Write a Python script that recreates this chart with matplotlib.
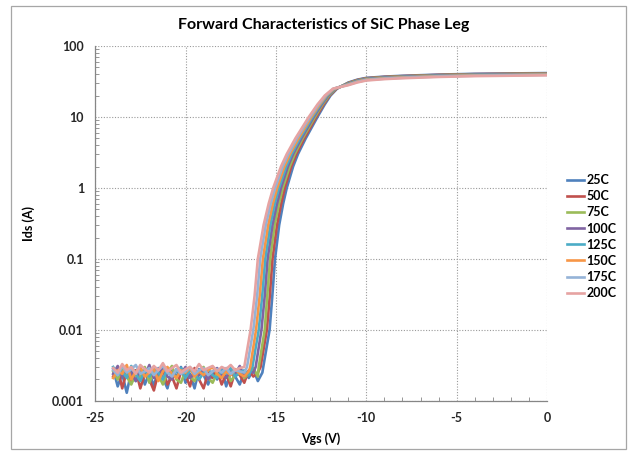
import numpy as np
import matplotlib
matplotlib.use("Agg")
import matplotlib.pyplot as plt
from matplotlib.patches import Rectangle
from matplotlib.ticker import LogLocator, MultipleLocator, FixedLocator

plt.rcParams['font.family'] = ['Lato', 'DejaVu Sans']
plt.rcParams['font.weight'] = 'bold'
plt.rcParams['axes.unicode_minus'] = False

labels = ['25C', '50C', '75C', '100C', '125C', '150C', '175C', '200C']
colors = ['#4F81BD', '#C0504D', '#9BBB59', '#8064A2', '#4BACC6', '#F79646', '#95B3D7', '#E6A3A2']
nan = np.nan

# noise floor (off state), common Vgs grid
floor_vgs = [-24.0, -23.75, -23.5, -23.25, -23.0, -22.75, -22.5, -22.25, -22.0, -21.75,
             -21.5, -21.25, -21.0, -20.75, -20.5, -20.25, -20.0, -19.75, -19.5, -19.25,
             -19.0, -18.75, -18.5, -18.25, -18.0, -17.75, -17.5, -17.25, -17.0, -16.75,
             -16.5, -16.25, -16.0, -15.75]
floor_25 = [0.0028, 0.0016, 0.0024, 0.0013, 0.0026, 0.0019, 0.0030, 0.0017, 0.0025, 0.0016,
            0.0029, 0.0021, 0.0015, 0.0027, 0.0022, 0.0030, 0.0018, 0.0024, 0.0015, 0.0028,
            0.0023, 0.0017, 0.0026, 0.0020, 0.0029, 0.0016, 0.0025, 0.0022, 0.0017, 0.0026,
            0.0021, 0.0028, 0.0019, 0.0025]
floor_50 = [0.0022, 0.0029, 0.0015, 0.0026, 0.0018, 0.0027, 0.0015, 0.0024, 0.0020, 0.0014,
            0.0025, 0.0028, 0.0017, 0.0022, 0.0015, 0.0026, 0.0023, 0.0016, 0.0029, 0.0020,
            0.0015, 0.0025, 0.0021, 0.0027, 0.0017, 0.0024, 0.0016, 0.0026, 0.0023, 0.0018,
            0.0027, 0.0022, 0.0025, nan]
floor_75 = [0.0026, 0.0020, 0.0029, 0.0022, 0.0017, 0.0024, 0.0021, 0.0030, 0.0018, 0.0026,
            0.0023, 0.0017, 0.0025, 0.0031, 0.0020, 0.0018, 0.0027, 0.0022, 0.0019, 0.0026,
            0.0030, 0.0021, 0.0018, 0.0025, 0.0022, 0.0028, 0.0019, 0.0023, 0.0027, 0.0021,
            0.0024, 0.0029, 0.0022, nan]
floor_100 = [0.0024, 0.0031, 0.0022, 0.0028, 0.0025, 0.0019, 0.0027, 0.0023, 0.0032, 0.0021,
             0.0024, 0.0029, 0.0022, 0.0020, 0.0028, 0.0024, 0.0030, 0.0021, 0.0025, 0.0023,
             0.0028, 0.0020, 0.0026, 0.0029, 0.0023, 0.0021, 0.0027, 0.0024, 0.0031, 0.0022,
             0.0026, 0.0025, nan, nan]
floor_125 = [0.0030, 0.0023, 0.0026, 0.0021, 0.0031, 0.0024, 0.0019, 0.0027, 0.0022, 0.0030,
             0.0025, 0.0020, 0.0028, 0.0023, 0.0026, 0.0029, 0.0021, 0.0027, 0.0024, 0.0020,
             0.0025, 0.0028, 0.0023, 0.0021, 0.0027, 0.0024, 0.0029, 0.0022, 0.0025, 0.0027,
             0.0023, nan, nan, nan]
floor_150 = [0.0021, 0.0027, 0.0024, 0.0032, 0.0020, 0.0026, 0.0029, 0.0022, 0.0025, 0.0028,
             0.0019, 0.0026, 0.0030, 0.0024, 0.0021, 0.0027, 0.0025, 0.0029, 0.0022, 0.0026,
             0.0023, 0.0027, 0.0030, 0.0024, 0.0021, 0.0026, 0.0023, 0.0028, 0.0024, 0.0022,
             0.0026, nan, nan, nan]
floor_175 = [0.0027, 0.0023, 0.0031, 0.0025, 0.0028, 0.0032, 0.0024, 0.0026, 0.0029, 0.0023,
             0.0027, 0.0031, 0.0025, 0.0022, 0.0028, 0.0024, 0.0026, 0.0030, 0.0024, 0.0027,
             0.0029, 0.0023, 0.0026, 0.0028, 0.0025, 0.0029, 0.0024, 0.0027, 0.0026, 0.0025,
             nan, nan, nan, nan]
floor_200 = [0.0029, 0.0025, 0.0033, 0.0027, 0.0030, 0.0024, 0.0032, 0.0028, 0.0025, 0.0031,
             0.0027, 0.0034, 0.0026, 0.0029, 0.0032, 0.0025, 0.0028, 0.0030, 0.0026, 0.0033,
             0.0027, 0.0029, 0.0031, 0.0026, 0.0030, 0.0028, 0.0032, 0.0027, 0.0029, nan,
             nan, nan, nan, nan]

# turn-on region: Vgs at which each curve reaches these currents
rise_ids = [0.003, 0.01, 0.03, 0.1, 0.3, 0.6, 1, 2, 3, 5, 10, 15, 20, 25]
rise_25 = [-15.70, -15.35, -15.20, -15.05, -14.82, -14.60, -14.40, -14.05, -13.78, -13.35, -12.70, -12.30, -11.98, -11.62]
rise_50 = [-15.85, -15.50, -15.34, -15.19, -14.94, -14.71, -14.51, -14.15, -13.87, -13.43, -12.77, -12.36, -12.03, -11.65]
rise_75 = [-15.95, -15.62, -15.48, -15.32, -15.07, -14.83, -14.62, -14.24, -13.96, -13.52, -12.84, -12.42, -12.07, -11.69]
rise_100 = [-16.12, -15.80, -15.62, -15.46, -15.19, -14.94, -14.72, -14.34, -14.05, -13.59, -12.91, -12.47, -12.12, -11.72]
rise_125 = [-16.30, -15.95, -15.76, -15.59, -15.31, -15.06, -14.83, -14.43, -14.13, -13.67, -12.97, -12.53, -12.16, -11.75]
rise_150 = [-16.42, -16.10, -15.90, -15.72, -15.43, -15.17, -14.93, -14.53, -14.22, -13.75, -13.04, -12.58, -12.21, -11.78]
rise_175 = [-16.60, -16.25, -16.04, -15.87, -15.56, -15.29, -15.04, -14.63, -14.31, -13.84, -13.11, -12.64, -12.25, -11.82]
rise_200 = [-16.75, -16.40, -16.18, -16.00, -15.68, -15.40, -15.15, -14.72, -14.40, -13.92, -13.18, -12.70, -12.30, -11.85]

# saturated (on) region
flat_vgs = [-11.0, -10.5, -10.0, -9.0, -8.0, -6.0, -4.0, -2.0, 0.0]
flat_25 = [30.5, 33.5, 35.5, 37.0, 38.0, 39.5, 40.5, 41.0, 41.5]
flat_50 = [30.1, 33.1, 35.1, 36.6, 37.6, 39.1, 40.1, 40.6, 41.1]
flat_75 = [29.8, 32.7, 34.7, 36.2, 37.2, 38.7, 39.7, 40.2, 40.7]
flat_100 = [29.4, 32.3, 34.3, 35.8, 36.8, 38.3, 39.3, 39.8, 40.3]
flat_125 = [29.1, 31.9, 33.9, 35.4, 36.4, 37.9, 38.9, 39.4, 39.9]
flat_150 = [28.7, 31.5, 33.5, 35.0, 36.0, 37.5, 38.5, 39.0, 39.5]
flat_175 = [28.4, 31.1, 33.1, 34.6, 35.6, 37.1, 38.1, 38.6, 39.1]
flat_200 = [28.0, 30.6, 32.6, 34.1, 35.1, 36.6, 37.6, 38.1, 38.6]

floors = [floor_25, floor_50, floor_75, floor_100, floor_125, floor_150, floor_175, floor_200]
rises = [rise_25, rise_50, rise_75, rise_100, rise_125, rise_150, rise_175, rise_200]
flats = [flat_25, flat_50, flat_75, flat_100, flat_125, flat_150, flat_175, flat_200]

fig = plt.figure(figsize=(6.34, 4.55), dpi=100)
ax = fig.add_axes([0.150, 0.119, 0.713, 0.780])

fig.patches.append(Rectangle((11 / 634, 6 / 455), 615 / 634, 443 / 455, transform=fig.transFigure,
                             fill=False, edgecolor='#a6a6a6', linewidth=0.9))

for lab, col, fl, ri, fa in zip(labels, colors, floors, rises, flats):
    fv = np.array(floor_vgs)
    fi = np.array(fl)
    ok = ~np.isnan(fi)
    x = np.concatenate([fv[ok], ri, flat_vgs])
    y = np.concatenate([fi[ok], rise_ids, fa])
    ax.plot(x, y, color=col, linewidth=1.9, label=lab)

ax.set_yscale('log')
ax.set_xlim(-25, 0)
ax.set_ylim(0.001, 100)
ax.yaxis.set_major_locator(FixedLocator([0.001, 0.01, 0.1, 1, 10, 100]))
ax.yaxis.set_minor_locator(LogLocator(base=10, subs=np.arange(2, 10), numticks=20))
ax.set_yticklabels(['0.001', '0.01', '0.1', '1', '10', '100'])
ax.xaxis.set_major_locator(MultipleLocator(5))
ax.xaxis.set_minor_locator(MultipleLocator(1))
ax.tick_params(axis='both', which='major', length=0, labelsize=9, pad=8, colors='#262626')
ax.tick_params(axis='both', which='minor', length=3, direction='in', color='#868686')
ax.grid(True, which='major', color='#9a9a9a', linestyle=(0, (1, 1.5)), linewidth=0.8)
for s in ['top', 'right']:
    ax.spines[s].set_visible(False)
for s in ['left', 'bottom']:
    ax.spines[s].set_color('#868686')
    ax.spines[s].set_linewidth(0.9)

ax.set_xlabel('Vgs (V)', fontsize=9, fontweight='bold', labelpad=6)
ax.set_ylabel('Ids (A)', fontsize=9, fontweight='bold', labelpad=12)
fig.text(0.511, 0.945, 'Forward Characteristics of SiC Phase Leg', ha='center', va='center',
         fontsize=11.5, fontweight='bold')

fig.legend(loc='center left', bbox_to_anchor=(0.876, 0.480), frameon=False, fontsize=9,
           handlelength=1.4, handletextpad=0.2, labelspacing=0.33)

fig.savefig('out.png', dpi=100)
